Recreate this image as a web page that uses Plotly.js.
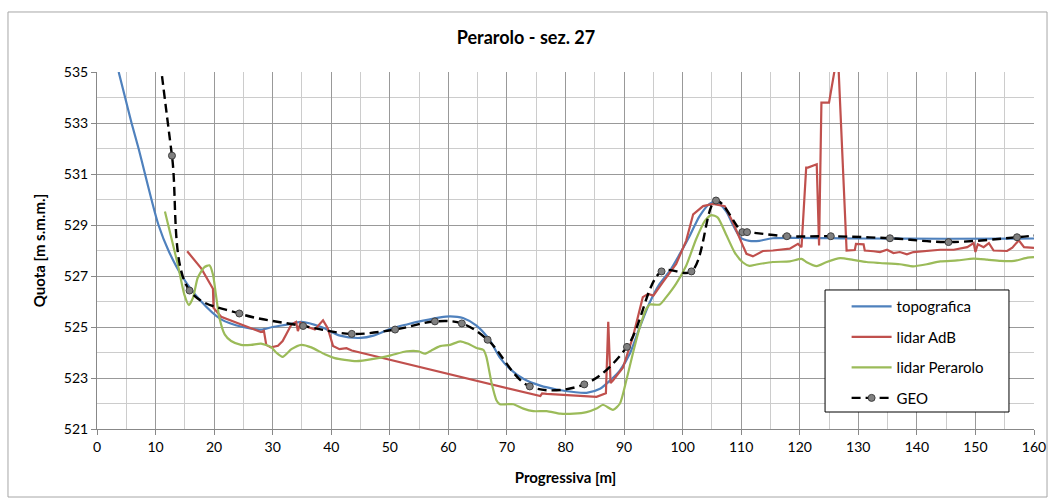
<!DOCTYPE html>
<html>
<head>
<meta charset="utf-8">
<script src="https://cdn.plot.ly/plotly-3.0.1.min.js"></script>
<style>
  html, body { margin: 0; padding: 0; background: #ffffff; }
  #chart { width: 1052px; height: 501px; }
</style>
</head>
<body>
<div id="chart"></div>
<script>
// ---- data ----
var chartTitle = 'Perarolo - sez. 27';
var xTitle = 'Progressiva [m]';
var yTitle = 'Quota [m s.m.m.]';
var seriesNames = ['topografica', 'lidar AdB', 'lidar Perarolo', 'GEO'];

var topoX = [3.7, 4.8, 5.9, 7.1, 8.2, 9.3, 10.5, 12.2, 14.5, 17.8, 21.2, 24.9, 28, 30, 32.6, 34.9, 38.3, 41.5, 45, 47.2, 50, 52.9, 55.7, 58.6, 60.3, 62.5, 64.8, 67.1, 68.8, 70.5, 72.8, 75.7, 78.5, 81.4, 83.6, 85.9, 87.6, 89.3, 91, 92.7, 94.4, 96.1, 97.8, 99.5, 101.2, 102.9, 104.6, 105.7, 107.4, 108.6, 109.9, 111.4, 113.1, 115.4, 130, 145, 160];
var topoY = [535, 534, 533, 532, 531, 530, 529, 528, 527, 526, 525.3, 525.0, 524.9, 525.0, 525.1, 525.2, 525.0, 524.66, 524.57, 524.66, 524.92, 525.1, 525.25, 525.38, 525.42, 525.35, 525.05, 524.47, 523.8, 523.36, 522.97, 522.7, 522.55, 522.45, 522.42, 522.58, 522.9, 523.3, 523.96, 525.0, 525.97, 526.7, 527.2, 527.86, 528.57, 529.35, 529.83, 529.9, 529.55, 529.0, 528.5, 528.38, 528.38, 528.48, 528.47, 528.46, 528.47];

var adbX = [15.4, 17.8, 19.8, 19.9, 21.2, 23.5, 25.8, 28.0, 28.5, 28.9, 29.7, 30.9, 31.7, 33.2, 34.0, 34.3, 34.75, 36.0, 37.2, 38.6, 39.4, 40.3, 41.4, 42.6, 43.5, 75.7, 76.0, 76.8, 85.3, 86.2, 86.9, 87.3, 87.7, 88.1, 89.8, 91.5, 93.2, 94.1, 95.0, 96.6, 98.9, 100.6, 101.8, 103.5, 105.2, 107.2, 108.6, 110.3, 110.9, 112.0, 113.7, 115.4, 118.3, 119.7, 120.3, 121.1, 121.4, 122.9, 123.3, 123.7, 125.0, 126.5, 128.0, 129.4, 129.6, 130.9, 131.1, 132.6, 133.7, 134.9, 136.0, 137.1, 138.3, 139.4, 141.7, 144.0, 146.3, 148.6, 149.7, 150.0, 150.4, 151.4, 152.3, 153.1, 155.4, 156.3, 157.4, 158.3, 160];
var adbY = [527.97, 527.3, 526.5, 525.75, 525.4, 525.2, 525.0, 524.8, 524.85, 524.3, 524.2, 524.26, 524.45, 525.1, 525.2, 524.84, 525.17, 525.0, 524.9, 525.26, 524.95, 524.26, 524.13, 524.17, 524.08, 522.29, 522.4, 522.38, 522.26, 522.33, 522.4, 525.2, 522.8, 522.9, 523.4, 524.6, 526.17, 526.3, 526.23, 526.75, 527.47, 528.38, 529.42, 529.74, 529.83, 529.74, 529.1, 528.18, 527.87, 527.77, 527.98, 528.0, 528.07, 528.26, 528.13, 531.25, 531.25, 531.38, 528.2, 533.8, 533.8, 535.8, 528.0, 528.02, 528.26, 528.24, 528.0, 527.97, 527.94, 528.03, 527.9, 527.94, 527.85, 527.94, 527.98, 528.03, 528.03, 528.13, 528.29, 527.94, 528.24, 528.13, 528.29, 528.0, 527.98, 528.11, 528.4, 528.13, 528.1];

var perX = [11.6, 13.8, 14.9, 15.7, 16.4, 17.2, 18.3, 19.2, 19.8, 20.3, 20.9, 21.8, 22.9, 24.6, 26.3, 28, 29.7, 30.6, 31.7, 33.2, 34.9, 36.6, 38.9, 40.6, 42.3, 44.3, 47.2, 50, 52.9, 54.9, 56, 57.1, 58.6, 60.3, 62, 63.4, 64.8, 66, 66.5, 67.4, 68.2, 68.8, 70, 71.1, 72.8, 74.5, 76.8, 79.1, 81.4, 83.6, 85.3, 86.4, 88.1, 89.3, 90.4, 91.5, 92.7, 93.8, 94.4, 96.1, 97.2, 98.9, 100.6, 102.3, 103.8, 104.9, 106, 107.4, 108.9, 110.3, 111.4, 112.6, 115.4, 118.3, 120.3, 121.1, 122.9, 124.6, 126.9, 129.1, 131.4, 133.7, 137.1, 139.4, 141.7, 144, 146.9, 149.7, 152, 154.3, 156.6, 158.9, 160];
var perY = [529.53, 527.45, 526.28, 525.86, 526.15, 526.93, 527.34, 527.42, 527.06, 526.28, 525.36, 524.71, 524.45, 524.3, 524.3, 524.35, 524.22, 524.0, 523.83, 524.13, 524.3, 524.2, 523.93, 523.78, 523.71, 523.66, 523.75, 523.88, 524.05, 524.05, 523.95, 524.08, 524.25, 524.3, 524.44, 524.34, 524.18, 524.1, 523.82, 522.78, 522.13, 521.97, 521.97, 521.97, 521.8, 521.7, 521.7, 521.6, 521.6, 521.66, 521.8, 521.95, 521.75, 522.0, 522.92, 523.96, 525.0, 525.71, 525.88, 525.88, 526.17, 526.7, 527.4, 528.44, 529.16, 529.39, 529.29, 528.64, 527.92, 527.53, 527.4, 527.45, 527.55, 527.57, 527.67, 527.55, 527.39, 527.55, 527.7, 527.63, 527.55, 527.51, 527.46, 527.38, 527.46, 527.57, 527.61, 527.68, 527.64, 527.59, 527.59, 527.72, 527.74];

var geoX = [10.8, 12.8, 15.8, 24.3, 35.2, 43.5, 50.9, 57.7, 62.3, 66.7, 73.9, 83.2, 90.5, 96.4, 101.5, 105.7, 110.2, 111.0, 117.8, 125.3, 135.4, 145.4, 157.1, 161.5];
var geoY = [535.4, 531.72, 526.43, 525.53, 525.04, 524.73, 524.9, 525.22, 525.14, 524.5, 522.67, 522.75, 524.22, 527.18, 527.18, 529.96, 528.72, 528.72, 528.56, 528.56, 528.48, 528.33, 528.52, 528.62];

var yTickVals = [521, 523, 525, 527, 529, 531, 533, 535];
var xTickVals = [0, 10, 20, 30, 40, 50, 60, 70, 80, 90, 100, 110, 120, 130, 140, 150, 160];

// ---- chart ----
var FONT = 'Lato, "Open Sans", "Liberation Sans", sans-serif';

var traces = [
  { x: topoX, y: topoY, name: seriesNames[0], legendgroup: 'a', type: 'scatter', mode: 'lines',
    line: { color: '#4F81BD', width: 2.2, shape: 'spline', smoothing: 0.8 } },
  { x: adbX, y: adbY, name: seriesNames[1], legendgroup: 'b', type: 'scatter', mode: 'lines',
    line: { color: '#C0504D', width: 2.2 } },
  { x: perX, y: perY, name: seriesNames[2], legendgroup: 'c', type: 'scatter', mode: 'lines',
    line: { color: '#9BBB59', width: 2.2, shape: 'spline', smoothing: 0.6 } },
  { x: geoX, y: geoY, name: seriesNames[3], legendgroup: 'd', type: 'scatter', mode: 'lines+markers',
    line: { color: '#000000', width: 2.4, dash: '9px,5px', shape: 'spline', smoothing: 1 },
    marker: { color: '#808080', size: 7, line: { color: '#404040', width: 1 } } }
];

var layout = {
  width: 1052, height: 501,
  margin: { l: 97, r: 18, t: 72, b: 72 },
  paper_bgcolor: '#ffffff', plot_bgcolor: '#ffffff',
  font: { family: FONT, size: 14, color: '#000000' },
  showlegend: true,
  title: { text: chartTitle, x: 0.5, xref: 'container', xanchor: 'center',
           y: 0.924, yref: 'container', yanchor: 'middle',
           font: { family: FONT, size: 18, color: '#000000', weight: 'bold' } },
  xaxis: {
    range: [0, 160], tickvals: xTickVals, ticks: 'outside', ticklen: 5, tickcolor: '#888888',
    showline: true, linecolor: '#888888', linewidth: 1,
    showgrid: true, gridcolor: '#999999', gridwidth: 1, zeroline: false,
    minor: { dtick: 5, tick0: 0, showgrid: true, gridcolor: '#cccccc', gridwidth: 1, ticks: '' },
    tickfont: { family: FONT, size: 14, color: '#000000' },
    title: { text: xTitle, standoff: 18, font: { family: FONT, size: 15, color: '#000000', weight: 'bold' } },
    fixedrange: true
  },
  yaxis: {
    range: [521, 535], tickvals: yTickVals, ticks: 'outside', ticklen: 5, tickcolor: '#888888',
    showline: true, linecolor: '#888888', linewidth: 1,
    showgrid: true, gridcolor: '#999999', gridwidth: 1, zeroline: false,
    minor: { dtick: 1, tick0: 521, showgrid: true, gridcolor: '#cccccc', gridwidth: 1, ticks: '' },
    tickfont: { family: FONT, size: 14, color: '#000000' },
    title: { text: yTitle, standoff: 14, font: { family: FONT, size: 15, color: '#000000', weight: 'bold' } },
    fixedrange: true
  },
  legend: {
    x: 0.8, y: 0.389, xanchor: 'left', yanchor: 'top',
    bgcolor: 'rgba(0,0,0,0)', borderwidth: 0,
    font: { family: FONT, size: 15, color: '#000000' },
    traceorder: 'grouped', tracegroupgap: 8, itemwidth: 40
  },
  shapes: [
    // outer chart frame
    { type: 'rect', xref: 'paper', yref: 'paper', x0: -0.095, x1: 1.0139, y0: -0.1905, y1: 1.1681,
      line: { color: '#a6a6a6', width: 1 }, fillcolor: 'rgba(0,0,0,0)', layer: 'below' },
    // legend frame
    { type: 'rect', xref: 'paper', yref: 'paper', x0: 0.777, x1: 0.9733, y0: 0.0476, y1: 0.3894,
      line: { color: '#000000', width: 1 }, fillcolor: '#ffffff', layer: 'above' }
  ]
};

Plotly.newPlot('chart', traces, layout, { displayModeBar: false, staticPlot: true });
</script>
</body>
</html>
